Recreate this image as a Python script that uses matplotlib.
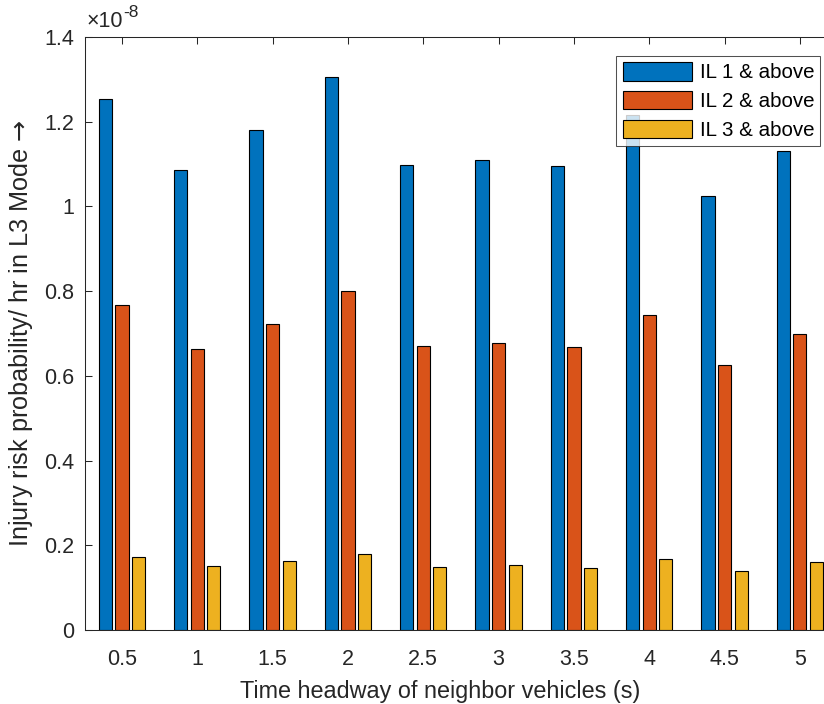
import numpy as np
import matplotlib.pyplot as plt

plt.rcParams['font.family'] = ['Liberation Sans', 'DejaVu Sans']
plt.rcParams['mathtext.fontset'] = 'custom'
plt.rcParams['mathtext.rm'] = 'Liberation Sans'
plt.rcParams['mathtext.sf'] = 'Noto Sans CJK SC'

# Data (injury risk probability per hour, in units of 1e-8)
headways = ['0.5', '1', '1.5', '2', '2.5', '3', '3.5', '4', '4.5', '5']
il1_above = [1.254, 1.086, 1.180, 1.305, 1.098, 1.110, 1.095, 1.217, 1.025, 1.131]
il2_above = [0.767, 0.664, 0.722, 0.800, 0.670, 0.677, 0.668, 0.744, 0.626, 0.699]
il3_above = [0.172, 0.151, 0.163, 0.179, 0.149, 0.153, 0.146, 0.168, 0.139, 0.160]
series_labels = ['IL 1 & above', 'IL 2 & above', 'IL 3 & above']
colors = ['#0072BD', '#D95319', '#EDB120']
y_ticks = [0, 0.2, 0.4, 0.6, 0.8, 1, 1.2, 1.4]
y_ticklabels = ['0', '0.2', '0.4', '0.6', '0.8', '1', '1.2', '1.4']

fig = plt.figure(figsize=(8.24, 7.04), dpi=100)
ax = fig.add_axes([85 / 824, 74 / 704, 739 / 824, 593 / 704])

x = np.arange(1, len(headways) + 1)
offset = 0.22
width = 0.175
for k, vals in enumerate([il1_above, il2_above, il3_above]):
    ax.bar(x + (k - 1) * offset, vals, width,
           color=colors[k], edgecolor='black', linewidth=0.8,
           label=series_labels[k], zorder=2)

ax.set_xlim(0.509, 10.32)
ax.set_ylim(0, 1.4)
ax.set_xticks(x)
ax.set_xticklabels(headways)
ax.set_yticks(y_ticks)
ax.set_yticklabels(y_ticklabels)

# exponent shown MATLAB-style above the y axis
base = ax.text(0.002, 1.008, '\u00d710', transform=ax.transAxes,
               fontsize=15.5, color='#262626', ha='left', va='bottom')
ax.annotate('-8', xy=(1.0, 0.6), xycoords=base, fontsize=12.5,
            color='#262626', ha='left', va='bottom')

ax.tick_params(direction='in', length=5, width=0.75, colors='#262626',
               labelsize=15.5, top=True, right=False)
ax.tick_params(axis='y', pad=8)
ax.tick_params(axis='x', pad=14)
for side in ['left', 'bottom', 'top']:
    ax.spines[side].set_color('#262626')
    ax.spines[side].set_linewidth(0.75)
ax.spines['right'].set_visible(False)

ax.set_xlabel('Time headway of neighbor vehicles (s)', fontsize=16.8,
              color='#262626', labelpad=7)
ax.xaxis.label.set_x(0.48)
ax.set_ylabel('Injury risk probability/ hr in L3 Mode $\\mathsf{\u2192}$',
              fontsize=18.2, color='#262626', labelpad=6)

leg = ax.legend(loc='upper right', fontsize=14.8, frameon=True, fancybox=False,
                edgecolor='#262626', handlelength=3.4, handleheight=1.0,
                labelspacing=0.42, borderpad=0.3, handletextpad=0.35,
                borderaxespad=0.0, bbox_to_anchor=(0.995, 0.968))
leg.get_frame().set_linewidth(0.75)

fig.savefig('out.png', dpi=100)
